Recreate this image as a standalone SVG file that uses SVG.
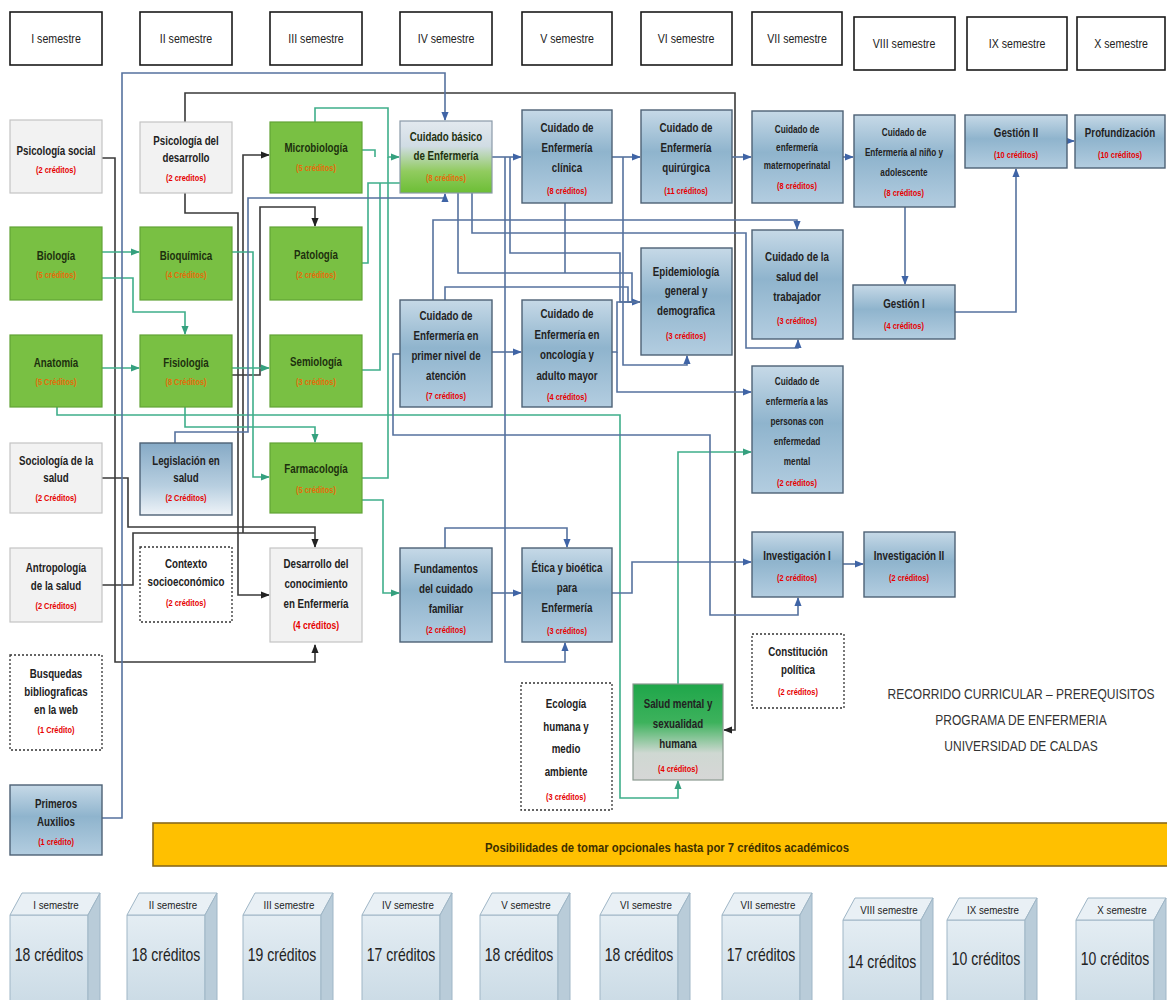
<svg xmlns="http://www.w3.org/2000/svg" width="1167" height="1000" viewBox="0 0 1167 1000">
<defs>
<style>
.hdr{fill:#fff;stroke:#1a1a1a;stroke-width:1.6}
.gray{fill:#f2f2f2;stroke:#c4c4c4;stroke-width:1.2}
.green{fill:#79c043;stroke:#62a336;stroke-width:1.2}
.blue{fill:url(#gB);stroke:#4d6175;stroke-width:1.4}
.dot{fill:#fff;stroke:#333;stroke-width:1.3;stroke-dasharray:2 2}
text{font-family:"Liberation Sans",Arial,sans-serif;text-anchor:middle}
.n{font-weight:bold;font-size:12.5px;fill:#222}
.g .n{fill:#1d300e}
.c{font-weight:bold;font-size:9.5px;fill:#e60000}
.g .c{fill:#e46c0a}
.s .n{font-size:10.5px}
.h{font-size:12.5px;fill:#222}
.k{stroke:#3a3a3a}
.t{stroke:#3fae8a}
.b{stroke:#56729e}
.cf{fill:url(#gC);stroke:#9fb6c6;stroke-width:1}
.ct{fill:#e9f0f5;stroke:#9fb6c6;stroke-width:1}
.cs{fill:#b9ccd9;stroke:#9fb6c6;stroke-width:1}
.cl{font-size:11.5px;fill:#222}
.cv{font-size:17.5px;fill:#222}
.ti{font-size:15px;fill:#333}
</style>
<linearGradient id="gB" x1="0" y1="0" x2="0" y2="1"><stop offset="0" stop-color="#c6d9e7"/><stop offset=".45" stop-color="#8fb4cd"/><stop offset="1" stop-color="#b3cde0"/></linearGradient>
<linearGradient id="gL" x1="0" y1="0" x2="0" y2="1"><stop offset="0" stop-color="#86aac6"/><stop offset=".6" stop-color="#b8cfe0"/><stop offset="1" stop-color="#eef3f8"/></linearGradient>
<linearGradient id="gCB" x1="0" y1="0" x2="0" y2="1"><stop offset="0" stop-color="#e3e9ef"/><stop offset=".35" stop-color="#d0dce4"/><stop offset=".7" stop-color="#91cb5f"/><stop offset="1" stop-color="#6cbe35"/></linearGradient>
<linearGradient id="gSM" x1="0" y1="0" x2="0" y2="1"><stop offset="0" stop-color="#1fa64a"/><stop offset=".4" stop-color="#3db25c"/><stop offset=".72" stop-color="#cfd8d2"/><stop offset="1" stop-color="#d6d6d6"/></linearGradient>
<linearGradient id="gC" x1="0" y1="0" x2="0" y2="1"><stop offset="0" stop-color="#e4edf3"/><stop offset="1" stop-color="#c8d9e4"/></linearGradient>
<marker id="aK" markerUnits="userSpaceOnUse" markerWidth="9" markerHeight="9" viewBox="0 0 10 10" refX="9" refY="5" orient="auto"><path d="M0,1 L10,5 L0,9 Z" fill="#222"/></marker>
<marker id="aT" markerUnits="userSpaceOnUse" markerWidth="9" markerHeight="9" viewBox="0 0 10 10" refX="9" refY="5" orient="auto"><path d="M0,1 L10,5 L0,9 Z" fill="#35a07e"/></marker>
<marker id="aB" markerUnits="userSpaceOnUse" markerWidth="9" markerHeight="9" viewBox="0 0 10 10" refX="9" refY="5" orient="auto"><path d="M0,1 L10,5 L0,9 Z" fill="#3f64a6"/></marker>
</defs>
<rect width="1167" height="1000" fill="#fff"/>

<!-- semester headers -->
<g id="headers">
<rect class="hdr" x="10" y="12" width="92" height="53"/><text class="h" transform="translate(56 43) scale(.85 1)">I semestre</text>
<rect class="hdr" x="140" y="12" width="92" height="53"/><text class="h" transform="translate(186 43) scale(.85 1)">II semestre</text>
<rect class="hdr" x="270" y="12" width="92" height="53"/><text class="h" transform="translate(316 43) scale(.85 1)">III semestre</text>
<rect class="hdr" x="400" y="12" width="92" height="53"/><text class="h" transform="translate(446 43) scale(.85 1)">IV semestre</text>
<rect class="hdr" x="522" y="12" width="90" height="53"/><text class="h" transform="translate(567 43) scale(.85 1)">V semestre</text>
<rect class="hdr" x="641" y="12" width="91" height="53"/><text class="h" transform="translate(686 43) scale(.85 1)">VI semestre</text>
<rect class="hdr" x="752" y="12" width="90" height="53"/><text class="h" transform="translate(797 43) scale(.85 1)">VII semestre</text>
<rect class="hdr" x="854" y="17" width="101" height="53"/><text class="h" transform="translate(904 48) scale(.85 1)">VIII semestre</text>
<rect class="hdr" x="967" y="17" width="100" height="53"/><text class="h" transform="translate(1017 48) scale(.85 1)">IX semestre</text>
<rect class="hdr" x="1077" y="17" width="88" height="53"/><text class="h" transform="translate(1121 48) scale(.85 1)">X semestre</text>
</g>

<!-- connectors -->
<g id="connectors" fill="none" stroke-width="1.6">
<path class="k" d="M102,158 H115 V662 H315 V645" marker-end="url(#aK)"/>
<path class="k" d="M185,122 V93 H735 V730 H724" marker-end="url(#aK)"/>
<path class="k" d="M185,193 V213 H238 V595 H269" marker-end="url(#aK)"/>
<path class="k" d="M102,478 H128 V527 H315 V547" marker-end="url(#aK)"/>
<path class="k" d="M102,585 H133 V533 H315"/>
<path class="k" d="M243,533 V155 H269" marker-end="url(#aK)"/>
<path class="k" d="M232,375 H260 V207 H315 V226" marker-end="url(#aK)"/>

<path class="t" d="M102,252 H139" marker-end="url(#aT)"/>
<path class="t" d="M102,278 H133 V312 H185 V334" marker-end="url(#aT)"/>
<path class="t" d="M102,368 H139" marker-end="url(#aT)"/>
<path class="t" d="M57,407 V415 H620 V798 H678 V781" marker-end="url(#aT)"/>
<path class="t" d="M232,252 H253 V477 H269" marker-end="url(#aT)"/>
<path class="t" d="M185,407 V427 H315 V442" marker-end="url(#aT)"/>
<path class="t" d="M232,368 H269" marker-end="url(#aT)"/>
<path class="t" d="M315,122 V108 H388 V157 H399" marker-end="url(#aT)"/>
<path class="t" d="M362,150 H375 V157"/>
<path class="t" d="M362,263 H368 V183 H400"/>
<path class="t" d="M362,370 H380 V183"/>
<path class="t" d="M362,478 H388 V157"/>
<path class="t" d="M362,500 H383 V593 H399" marker-end="url(#aT)"/>
<path class="t" d="M678,684 V452 H751" marker-end="url(#aT)"/>

<path class="b" d="M102,818 H122 V73 H445 V120" marker-end="url(#aB)"/>
<path class="b" d="M175,443 V432 H248 V198 H445 V194" marker-end="url(#aB)"/>
<path class="b" d="M492,157 H521" marker-end="url(#aB)"/>
<path class="b" d="M458,193 V273 H632 V302 H640" marker-end="url(#aB)"/>
<path class="b" d="M565,203 V273"/>
<path class="b" d="M445,300 V287 H628 V302 H640"/>
<path class="b" d="M510,157 V253 H620 V302 H640"/>
<path class="b" d="M612,352 H617 V302 H640"/>
<path class="b" d="M433,300 V220 H797 V229" marker-end="url(#aB)"/>
<path class="b" d="M472,193 V233 H746 V348 H798 V340" marker-end="url(#aB)"/>
<path class="b" d="M505,157 V662 H565 V643" marker-end="url(#aB)"/>
<path class="b" d="M612,157 H640" marker-end="url(#aB)"/>
<path class="b" d="M623,157 V365 H687 V356" marker-end="url(#aB)"/>
<path class="b" d="M732,157 H751" marker-end="url(#aB)"/>
<path class="b" d="M492,352 H521" marker-end="url(#aB)"/>
<path class="b" d="M617,352 V392 H751" marker-end="url(#aB)"/>
<path class="b" d="M400,354 H393 V435 H710 V615 H798 V598" marker-end="url(#aB)"/>
<path class="b" d="M612,593 H632 V562 H751" marker-end="url(#aB)"/>
<path class="b" d="M492,593 H521" marker-end="url(#aB)"/>
<path class="b" d="M445,548 V528 H567 V547" marker-end="url(#aB)"/>
<path class="b" d="M843,564 H863" marker-end="url(#aB)"/>
<path class="b" d="M843,157 H853" marker-end="url(#aB)"/>
<path class="b" d="M905,207 V284" marker-end="url(#aB)"/>
<path class="b" d="M955,312 H1016 V169" marker-end="url(#aB)"/>
<path class="b" d="M1067,141 H1074" marker-end="url(#aB)"/>
</g>

<!-- I semestre -->
<g id="psicologia-social"><rect class="gray" x="10" y="120" width="92" height="73"/><g transform="translate(56 0) scale(.78 1)"><text class="n" y="155">Psicología social</text><text class="c" y="173">(2 créditos)</text></g></g>
<g id="biologia" class="g"><rect class="green" x="10" y="227" width="92" height="73"/><g transform="translate(56 0) scale(.78 1)"><text class="n" y="260">Biología</text><text class="c" y="278">(5 créditos)</text></g></g>
<g id="anatomia" class="g"><rect class="green" x="10" y="335" width="92" height="72"/><g transform="translate(56 0) scale(.78 1)"><text class="n" y="367">Anatomía</text><text class="c" y="385">(5 Créditos)</text></g></g>
<g id="sociologia"><rect class="gray" x="10" y="443" width="92" height="70"/><g transform="translate(56 0) scale(.78 1)"><text class="n" y="465">Sociología de la</text><text class="n" y="482">salud</text><text class="c" y="501">(2 Créditos)</text></g></g>
<g id="antropologia"><rect class="gray" x="10" y="548" width="92" height="74"/><g transform="translate(56 0) scale(.78 1)"><text class="n" y="572">Antropología</text><text class="n" y="590">de la salud</text><text class="c" y="609">(2 Créditos)</text></g></g>
<g id="busquedas"><rect class="dot" x="10" y="655" width="92" height="95"/><g transform="translate(56 0) scale(.78 1)"><text class="n" y="678">Busquedas</text><text class="n" y="696">bibliograficas</text><text class="n" y="714">en la web</text><text class="c" y="733">(1 Crédito)</text></g></g>
<g id="primeros-auxilios"><rect class="blue" x="10" y="785" width="92" height="70"/><g transform="translate(56 0) scale(.78 1)"><text class="n" y="808">Primeros</text><text class="n" y="826">Auxilios</text><text class="c" y="845">(1 crédito)</text></g></g>

<!-- II semestre -->
<g id="psicologia-desarrollo"><rect class="gray" x="140" y="122" width="92" height="71"/><g transform="translate(186 0) scale(.78 1)"><text class="n" y="145">Psicología del</text><text class="n" y="162">desarrollo</text><text class="c" y="181">(2 creditos)</text></g></g>
<g id="bioquimica" class="g"><rect class="green" x="140" y="227" width="92" height="73"/><g transform="translate(186 0) scale(.78 1)"><text class="n" y="260">Bioquímica</text><text class="c" y="278">(4 Créditos)</text></g></g>
<g id="fisiologia" class="g"><rect class="green" x="140" y="335" width="92" height="72"/><g transform="translate(186 0) scale(.78 1)"><text class="n" y="367">Fisiología</text><text class="c" y="385">(8 Créditos)</text></g></g>
<g id="legislacion"><rect x="140" y="443" width="92" height="72" fill="url(#gL)" stroke="#4d6175" stroke-width="1.4"/><g transform="translate(186 0) scale(.78 1)"><text class="n" y="465">Legislación en</text><text class="n" y="482">salud</text><text class="c" y="501">(2 Créditos)</text></g></g>
<g id="contexto"><rect class="dot" x="140" y="547" width="92" height="75"/><g transform="translate(186 0) scale(.78 1)"><text class="n" y="568">Contexto</text><text class="n" y="586">socioeconómico</text><text class="c" y="606">(2 créditos)</text></g></g>

<!-- III semestre -->
<g id="microbiologia" class="g"><rect class="green" x="270" y="122" width="92" height="71"/><g transform="translate(316 0) scale(.78 1)"><text class="n" y="152">Microbiología</text><text class="c" y="171">(5 créditos)</text></g></g>
<g id="patologia" class="g"><rect class="green" x="270" y="227" width="92" height="73"/><g transform="translate(316 0) scale(.78 1)"><text class="n" y="259">Patología</text><text class="c" y="278">(2 créditos)</text></g></g>
<g id="semiologia" class="g"><rect class="green" x="270" y="335" width="92" height="72"/><g transform="translate(316 0) scale(.78 1)"><text class="n" y="366">Semiología</text><text class="c" y="385">(3 créditos)</text></g></g>
<g id="farmacologia" class="g"><rect class="green" x="270" y="443" width="92" height="70"/><g transform="translate(316 0) scale(.78 1)"><text class="n" y="473">Farmacología</text><text class="c" y="493">(5 créditos)</text></g></g>
<g id="desarrollo-conocimiento"><rect class="gray" x="270" y="548" width="92" height="94"/><g transform="translate(316 0) scale(.78 1)"><text class="n" y="568">Desarrollo del</text><text class="n" y="588">conocimiento</text><text class="n" y="608">en Enfermería</text><text class="c" y="629" style="font-size:11px">(4 créditos)</text></g></g>

<!-- IV semestre -->
<g id="cuidado-basico" class="g"><rect x="400" y="121" width="92" height="72" fill="url(#gCB)" stroke="#8a9aa8" stroke-width="1.2"/><g transform="translate(446 0) scale(.78 1)"><text class="n" y="141">Cuidado básico</text><text class="n" y="160">de Enfermería</text><text class="c" y="181">(8 créditos)</text></g></g>
<g id="primer-nivel"><rect class="blue" x="400" y="300" width="92" height="107"/><g transform="translate(446 0) scale(.78 1)"><text class="n" y="320">Cuidado de</text><text class="n" y="340">Enfermería en</text><text class="n" y="360">primer nivel de</text><text class="n" y="380">atención</text><text class="c" y="399">(7 créditos)</text></g></g>
<g id="fundamentos"><rect class="blue" x="400" y="548" width="92" height="94"/><g transform="translate(446 0) scale(.78 1)"><text class="n" y="573">Fundamentos</text><text class="n" y="593">del cuidado</text><text class="n" y="613">familiar</text><text class="c" y="633">(2 créditos)</text></g></g>

<!-- V semestre -->
<g id="clinica"><rect class="blue" x="522" y="110" width="90" height="93"/><g transform="translate(567 0) scale(.78 1)"><text class="n" y="132">Cuidado de</text><text class="n" y="152">Enfermería</text><text class="n" y="172">clínica</text><text class="c" y="194">(8 créditos)</text></g></g>
<g id="oncologia"><rect class="blue" x="522" y="300" width="90" height="107"/><g transform="translate(567 0) scale(.78 1)"><text class="n" y="318">Cuidado de</text><text class="n" y="339">Enfermería en</text><text class="n" y="359">oncología y</text><text class="n" y="380">adulto mayor</text><text class="c" y="400">(4 créditos)</text></g></g>
<g id="etica"><rect class="blue" x="522" y="548" width="90" height="94"/><g transform="translate(567 0) scale(.78 1)"><text class="n" y="572">Ética y bioética</text><text class="n" y="592">para</text><text class="n" y="612">Enfermería</text><text class="c" y="634">(3 créditos)</text></g></g>
<g id="ecologia"><rect class="dot" x="521" y="683" width="91" height="127"/><g transform="translate(566 0) scale(.78 1)"><text class="n" y="708">Ecología</text><text class="n" y="731">humana y</text><text class="n" y="753">medio</text><text class="n" y="776">ambiente</text><text class="c" y="800">(3 créditos)</text></g></g>

<!-- VI semestre -->
<g id="quirurgica"><rect class="blue" x="641" y="110" width="91" height="93"/><g transform="translate(686 0) scale(.78 1)"><text class="n" y="132">Cuidado de</text><text class="n" y="152">Enfermería</text><text class="n" y="172">quirúrgica</text><text class="c" y="194">(11 créditos)</text></g></g>
<g id="epidemiologia"><rect class="blue" x="641" y="248" width="91" height="107"/><g transform="translate(686 0) scale(.78 1)"><text class="n" y="276">Epidemiología</text><text class="n" y="295">general y</text><text class="n" y="315">demografica</text><text class="c" y="339">(3 créditos)</text></g></g>
<g id="salud-mental"><rect x="633" y="684" width="90" height="96" fill="url(#gSM)" stroke="#8a9a90" stroke-width="1.2"/><g transform="translate(678 0) scale(.78 1)"><text class="n" y="708">Salud mental y</text><text class="n" y="728">sexualidad</text><text class="n" y="748">humana</text><text class="c" y="772">(4 créditos)</text></g></g>

<!-- VII semestre -->
<g id="maternoperinatal" class="s"><rect class="blue" x="752" y="111" width="91" height="92"/><g transform="translate(797 0) scale(.78 1)"><text class="n" y="133">Cuidado de</text><text class="n" y="151">enfermería</text><text class="n" y="169">maternoperinatal</text><text class="c" y="189">(8 créditos)</text></g></g>
<g id="trabajador"><rect class="blue" x="752" y="230" width="91" height="109"/><g transform="translate(797 0) scale(.78 1)"><text class="n" y="261">Cuidado de la</text><text class="n" y="281">salud del</text><text class="n" y="301">trabajador</text><text class="c" y="324">(3 créditos)</text></g></g>
<g id="enfermedad-mental" class="s"><rect class="blue" x="752" y="366" width="91" height="127"/><g transform="translate(797 0) scale(.78 1)"><text class="n" y="385">Cuidado de</text><text class="n" y="405">enfermería a las</text><text class="n" y="425">personas con</text><text class="n" y="445">enfermedad</text><text class="n" y="465">mental</text><text class="c" y="486">(2 créditos)</text></g></g>
<g id="investigacion-1"><rect class="blue" x="752" y="532" width="91" height="65"/><g transform="translate(797 0) scale(.78 1)"><text class="n" y="560">Investigación I</text><text class="c" y="581">(2 créditos)</text></g></g>
<g id="constitucion"><rect class="dot" x="752" y="634" width="92" height="74"/><g transform="translate(798 0) scale(.78 1)"><text class="n" y="656">Constitución</text><text class="n" y="674">política</text><text class="c" y="695">(2 créditos)</text></g></g>

<!-- VIII - X semestre -->
<g id="nino" class="s"><rect class="blue" x="854" y="115" width="101" height="92"/><g transform="translate(904 0) scale(.78 1)"><text class="n" y="136">Cuidado de</text><text class="n" y="156">Enfermería al niño y</text><text class="n" y="176">adolescente</text><text class="c" y="196">(8 créditos)</text></g></g>
<g id="gestion-1"><rect class="blue" x="853" y="285" width="102" height="54"/><g transform="translate(904 0) scale(.78 1)"><text class="n" y="308">Gestión I</text><text class="c" y="329">(4 créditos)</text></g></g>
<g id="investigacion-2"><rect class="blue" x="864" y="532" width="91" height="65"/><g transform="translate(909 0) scale(.78 1)"><text class="n" y="560">Investigación II</text><text class="c" y="581">(2 créditos)</text></g></g>
<g id="gestion-2"><rect class="blue" x="965" y="115" width="102" height="53"/><g transform="translate(1016 0) scale(.78 1)"><text class="n" y="137">Gestión II</text><text class="c" y="158">(10 créditos)</text></g></g>
<g id="profundizacion"><rect class="blue" x="1075" y="115" width="90" height="53"/><g transform="translate(1120 0) scale(.78 1)"><text class="n" y="137">Profundización</text><text class="c" y="158">(10 créditos)</text></g></g>

<!-- title -->
<g id="title">
<text class="ti" transform="translate(1021 699) scale(.8 1)">RECORRIDO CURRICULAR – PREREQUISITOS</text>
<text class="ti" transform="translate(1021 725) scale(.8 1)">PROGRAMA DE ENFERMERIA</text>
<text class="ti" transform="translate(1021 751) scale(.8 1)">UNIVERSIDAD DE CALDAS</text>
</g>

<!-- banner -->
<g id="banner">
<rect x="153" y="823" width="1016" height="43" fill="#ffc000" stroke="#8a6a1c" stroke-width="1.6"/>
<text x="667" y="852" font-size="12" font-weight="bold" fill="#3d2f00" textLength="364" lengthAdjust="spacingAndGlyphs">Posibilidades de tomar opcionales hasta por 7 créditos académicos</text>
</g>

<!-- credit cubes -->
<g id="cube-1" transform="translate(10 893)"><path class="cf" d="M0,22 H78 V120 H0 Z"/><path class="ct" d="M0,22 L12,0 H90 L78,22 Z"/><path class="cs" d="M78,22 L90,0 V110 L78,120 Z"/><text class="cl" transform="translate(46 16) scale(.85 1)">I semestre</text><text class="cv" transform="translate(39 68) scale(.8 1)">18 créditos</text></g>
<g id="cube-2" transform="translate(127 893)"><path class="cf" d="M0,22 H78 V120 H0 Z"/><path class="ct" d="M0,22 L12,0 H90 L78,22 Z"/><path class="cs" d="M78,22 L90,0 V110 L78,120 Z"/><text class="cl" transform="translate(46 16) scale(.85 1)">II semestre</text><text class="cv" transform="translate(39 68) scale(.8 1)">18 créditos</text></g>
<g id="cube-3" transform="translate(243 893)"><path class="cf" d="M0,22 H78 V120 H0 Z"/><path class="ct" d="M0,22 L12,0 H90 L78,22 Z"/><path class="cs" d="M78,22 L90,0 V110 L78,120 Z"/><text class="cl" transform="translate(46 16) scale(.85 1)">III semestre</text><text class="cv" transform="translate(39 68) scale(.8 1)">19 créditos</text></g>
<g id="cube-4" transform="translate(362 893)"><path class="cf" d="M0,22 H78 V120 H0 Z"/><path class="ct" d="M0,22 L12,0 H90 L78,22 Z"/><path class="cs" d="M78,22 L90,0 V110 L78,120 Z"/><text class="cl" transform="translate(46 16) scale(.85 1)">IV semestre</text><text class="cv" transform="translate(39 68) scale(.8 1)">17 créditos</text></g>
<g id="cube-5" transform="translate(480 893)"><path class="cf" d="M0,22 H78 V120 H0 Z"/><path class="ct" d="M0,22 L12,0 H90 L78,22 Z"/><path class="cs" d="M78,22 L90,0 V110 L78,120 Z"/><text class="cl" transform="translate(46 16) scale(.85 1)">V semestre</text><text class="cv" transform="translate(39 68) scale(.8 1)">18 créditos</text></g>
<g id="cube-6" transform="translate(600 893)"><path class="cf" d="M0,22 H78 V120 H0 Z"/><path class="ct" d="M0,22 L12,0 H90 L78,22 Z"/><path class="cs" d="M78,22 L90,0 V110 L78,120 Z"/><text class="cl" transform="translate(46 16) scale(.85 1)">VI semestre</text><text class="cv" transform="translate(39 68) scale(.8 1)">18 créditos</text></g>
<g id="cube-7" transform="translate(722 893)"><path class="cf" d="M0,22 H78 V120 H0 Z"/><path class="ct" d="M0,22 L12,0 H90 L78,22 Z"/><path class="cs" d="M78,22 L90,0 V110 L78,120 Z"/><text class="cl" transform="translate(46 16) scale(.85 1)">VII semestre</text><text class="cv" transform="translate(39 68) scale(.8 1)">17 créditos</text></g>
<g id="cube-8" transform="translate(843 898)"><path class="cf" d="M0,22 H78 V120 H0 Z"/><path class="ct" d="M0,22 L12,0 H90 L78,22 Z"/><path class="cs" d="M78,22 L90,0 V110 L78,120 Z"/><text class="cl" transform="translate(46 16) scale(.85 1)">VIII semestre</text><text class="cv" transform="translate(39 70) scale(.8 1)">14 créditos</text></g>
<g id="cube-9" transform="translate(947 898)"><path class="cf" d="M0,22 H78 V120 H0 Z"/><path class="ct" d="M0,22 L12,0 H90 L78,22 Z"/><path class="cs" d="M78,22 L90,0 V110 L78,120 Z"/><text class="cl" transform="translate(46 16) scale(.85 1)">IX semestre</text><text class="cv" transform="translate(39 67) scale(.8 1)">10 créditos</text></g>
<g id="cube-10" transform="translate(1076 898)"><path class="cf" d="M0,22 H78 V120 H0 Z"/><path class="ct" d="M0,22 L12,0 H90 L78,22 Z"/><path class="cs" d="M78,22 L90,0 V110 L78,120 Z"/><text class="cl" transform="translate(46 16) scale(.85 1)">X semestre</text><text class="cv" transform="translate(39 67) scale(.8 1)">10 créditos</text></g>
</svg>
